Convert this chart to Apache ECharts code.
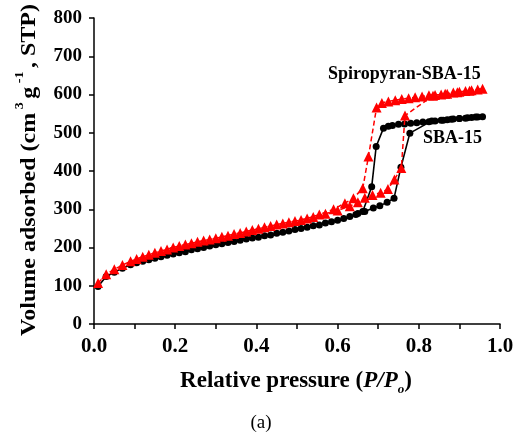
<!DOCTYPE html>
<html>
<head>
<meta charset="utf-8">
<script src="https://cdn.jsdelivr.net/npm/echarts@6/dist/echarts.min.js"></script>
<style>
  html, body { margin: 0; padding: 0; background: #fff; }
  #chart { width: 524px; height: 444px; }
</style>
</head>
<body>
<div id="chart"></div>
<script>
// N2 sorption isotherms: relative pressure P/Po vs. volume adsorbed (cm3/g, STP)

// SBA-15, adsorption branch
var sbaAdsP = [0.01, 0.03, 0.05, 0.07, 0.09, 0.12, 0.15, 0.18, 0.21, 0.24, 0.27, 0.30, 0.33, 0.36, 0.39, 0.42, 0.45, 0.48, 0.51, 0.54, 0.57, 0.60, 0.63, 0.65, 0.667, 0.688, 0.704, 0.722, 0.739, 0.756, 0.778, 0.832, 0.86, 0.88, 0.90, 0.92, 0.94, 0.957];
var sbaAdsV = [98, 124, 135, 146, 155, 164, 172, 180, 186, 194, 200, 207, 213, 219, 225, 231, 237, 243, 250, 257, 264, 271, 281, 289, 294, 303, 309, 318, 329, 410, 499, 531, 533, 535, 537, 539, 541, 542];
// SBA-15, desorption branch
var sbaDesP = [0.945, 0.93, 0.915, 0.90, 0.885, 0.87, 0.855, 0.84, 0.825, 0.81, 0.795, 0.78, 0.765, 0.75, 0.735, 0.725, 0.713, 0.695, 0.684, 0.662, 0.645, 0.615, 0.585, 0.555, 0.525, 0.495, 0.465, 0.435, 0.405, 0.375, 0.345, 0.315, 0.285, 0.255, 0.225, 0.195, 0.165, 0.135, 0.105];
var sbaDesV = [541, 540, 538, 537, 536, 534, 533, 531, 529, 528, 526, 525, 523, 522, 519, 517, 512, 464, 359, 294, 286, 276, 267, 259, 253, 247, 240, 233, 227, 222, 216, 210, 204, 197, 189, 183, 176, 168, 160];

// Spiropyran-SBA-15, adsorption branch
var spAdsP = [0.01, 0.03, 0.05, 0.07, 0.09, 0.12, 0.15, 0.18, 0.21, 0.24, 0.27, 0.30, 0.33, 0.36, 0.39, 0.42, 0.45, 0.48, 0.51, 0.54, 0.57, 0.60, 0.63, 0.65, 0.667, 0.686, 0.706, 0.724, 0.74, 0.757, 0.766, 0.835, 0.865, 0.895, 0.925, 0.957];
var spAdsV = [107, 130, 143, 154, 164, 176, 186, 195, 204, 211, 218, 224, 231, 238, 246, 253, 260, 266, 272, 280, 288, 297, 308, 318, 330, 337, 343, 353, 378, 408, 545, 597, 602, 606, 610, 615];
// Spiropyran-SBA-15, desorption branch
var spDesP = [0.945, 0.93, 0.915, 0.90, 0.885, 0.87, 0.855, 0.84, 0.825, 0.808, 0.791, 0.775, 0.758, 0.742, 0.725, 0.709, 0.696, 0.676, 0.662, 0.639, 0.618, 0.59, 0.555, 0.525, 0.495, 0.465, 0.435, 0.405, 0.375, 0.345, 0.315, 0.285, 0.255, 0.225, 0.195, 0.165, 0.135, 0.105];
var spDesV = [613, 611, 609, 607, 605, 602, 600, 599, 598, 595, 593, 590, 588, 585, 582, 578, 566, 438, 355, 329, 316, 300, 286, 276, 269, 263, 256, 249, 242, 235, 228, 221, 215, 208, 200, 191, 181, 170];

var xTicks = [0, 0.2, 0.4, 0.6, 0.8, 1.0];
var yTicks = [0, 100, 200, 300, 400, 500, 600, 700, 800];

function pairs(px, vy) {
  return px.map(function (p, i) { return [p, vy[i]]; });
}

var serif = '"Liberation Serif", "Times New Roman", serif';

var chart = echarts.init(document.getElementById('chart'), null, { renderer: 'canvas' });

chart.setOption({
  animation: false,
  backgroundColor: '#ffffff',
  grid: { left: 94, right: 24, top: 18, bottom: 120, containLabel: false },
  xAxis: {
    type: 'value',
    min: xTicks[0],
    max: xTicks[xTicks.length - 1],
    interval: xTicks[1] - xTicks[0],
    axisLine: { show: true, onZero: false, lineStyle: { color: '#000', width: 1.5 } },
    axisTick: { show: true, inside: false, length: 5, lineStyle: { color: '#000', width: 1.5 } },
    minorTick: { show: true, splitNumber: 2, length: 5, lineStyle: { color: '#000', width: 1.5 } },
    splitLine: { show: false },
    axisLabel: {
      color: '#000', fontFamily: serif, fontWeight: 'bold', fontSize: 21, margin: 12,
      formatter: function (v) { return v.toFixed(1); }
    }
  },
  yAxis: {
    type: 'value',
    min: yTicks[0],
    max: yTicks[yTicks.length - 1],
    interval: yTicks[1] - yTicks[0],
    axisLine: { show: true, onZero: false, lineStyle: { color: '#000', width: 1.5 } },
    axisTick: { show: true, inside: false, length: 5, lineStyle: { color: '#000', width: 1.5 } },
    splitLine: { show: false },
    axisLabel: { color: '#000', fontFamily: serif, fontWeight: 'bold', fontSize: 19, margin: 12 }
  },
  series: [
    {
      name: 'SBA-15',
      type: 'line',
      data: pairs(sbaAdsP, sbaAdsV).concat(pairs(sbaDesP, sbaDesV)),
      symbol: 'circle',
      symbolSize: 7,
      showAllSymbol: true,
      itemStyle: { color: '#000' },
      lineStyle: { color: '#000', width: 1.6 },
      z: 2
    },
    {
      name: 'Spiropyran-SBA-15',
      type: 'line',
      data: pairs(spAdsP, spAdsV).concat(pairs(spDesP, spDesV)),
      symbol: 'triangle',
      symbolSize: 10,
      showAllSymbol: true,
      itemStyle: { color: '#ff0000' },
      lineStyle: { color: '#ff0000', width: 1.5, type: [5, 3] },
      z: 3
    }
  ],
  graphic: [
    {
      type: 'text', x: 27, y: 170, rotation: Math.PI / 2, scaleY: 0.9,
      style: {
        text: '{b|Volume adsorbed (cm}{s| 3 }{b|g}{s| -1 }{b|, STP)}',
        align: 'center', verticalAlign: 'middle',
        rich: {
          b: { fontFamily: serif, fontWeight: 'bold', fontSize: 24, fill: '#000', lineHeight: 30, verticalAlign: 'bottom' },
          s: { fontFamily: serif, fontWeight: 'bold', fontSize: 14, fill: '#000', lineHeight: 30, verticalAlign: 'top' }
        }
      }
    },
    {
      type: 'text', x: 296, y: 381,
      style: {
        text: '{b|Relative pressure (}{i|P/P}{o|o}{b|)}',
        align: 'center', verticalAlign: 'middle',
        rich: {
          b: { fontFamily: serif, fontWeight: 'bold', fontSize: 23, fill: '#000', lineHeight: 30, verticalAlign: 'middle' },
          i: { fontFamily: serif, fontWeight: 'bold', fontStyle: 'italic', fontSize: 23, fill: '#000', lineHeight: 30, verticalAlign: 'middle' },
          o: { fontFamily: serif, fontWeight: 'bold', fontStyle: 'italic', fontSize: 13, fill: '#000', lineHeight: 30, verticalAlign: 'bottom' }
        }
      }
    },
    {
      type: 'text', x: 261, y: 423,
      style: { text: '(a)', align: 'center', verticalAlign: 'middle', font: '19px ' + serif, fill: '#000' }
    },
    {
      type: 'text', x: 328, y: 74,
      style: { text: 'Spiropyran-SBA-15', align: 'left', verticalAlign: 'middle', font: 'bold 18px ' + serif, fill: '#000' }
    },
    {
      type: 'text', x: 423, y: 138,
      style: { text: 'SBA-15', align: 'left', verticalAlign: 'middle', font: 'bold 18px ' + serif, fill: '#000' }
    }
  ]
});
</script>
</body>
</html>
